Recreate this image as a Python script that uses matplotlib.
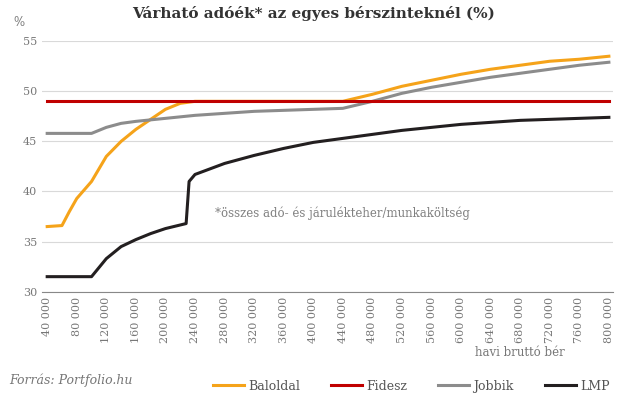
import matplotlib.pyplot as plt

plt.rcParams['font.family'] = 'DejaVu Serif'

x_bal = [40000, 60000, 70000, 80000, 100000, 120000, 140000, 160000, 180000, 200000, 220000, 240000,
         440000, 480000, 520000, 560000, 600000, 640000, 680000, 720000, 760000, 800000]
y_bal = [36.5, 36.6, 38.0, 39.3, 41.0, 43.5, 45.0, 46.2, 47.2, 48.2, 48.8, 49.0,
         49.0, 49.7, 50.5, 51.1, 51.7, 52.2, 52.6, 53.0, 53.2, 53.5]

x_fid = [40000, 800000]
y_fid = [49, 49]

x_job = [40000, 100000, 120000, 140000, 160000, 200000, 240000, 280000, 320000, 360000, 400000, 440000,
         480000, 520000, 560000, 600000, 640000, 680000, 720000, 760000, 800000]
y_job = [45.8, 45.8, 46.4, 46.8, 47.0, 47.3, 47.6, 47.8, 48.0, 48.1, 48.2, 48.3,
         49.0, 49.8, 50.4, 50.9, 51.4, 51.8, 52.2, 52.6, 52.9]

x_lmp = [40000, 100000, 120000, 140000, 160000, 180000, 200000, 228000, 232000, 240000, 280000, 320000,
         360000, 400000, 440000, 480000, 520000, 560000, 600000, 640000, 680000, 720000, 760000, 800000]
y_lmp = [31.5, 31.5, 33.3, 34.5, 35.2, 35.8, 36.3, 36.8, 41.0, 41.7, 42.8, 43.6,
         44.3, 44.9, 45.3, 45.7, 46.1, 46.4, 46.7, 46.9, 47.1, 47.2, 47.3, 47.4]

xticks = list(range(40000, 800001, 40000))
xtick_labels = [f"{v:,}".replace(",", " ") for v in xticks]

fig = plt.figure(figsize=(6.27, 4.04), dpi=100)
ax = fig.add_axes([0.067, 0.278, 0.91, 0.62])

ax.plot(x_bal, y_bal, color='#f5a31a', lw=2.2, label='Baloldal', zorder=2)
ax.plot(x_fid, y_fid, color='#c00000', lw=2.2, label='Fidesz', zorder=3)
ax.plot(x_job, y_job, color='#8c8c8c', lw=2.2, label='Jobbik', zorder=2)
ax.plot(x_lmp, y_lmp, color='#231f20', lw=2.2, label='LMP', zorder=2)

ax.set_xlim(33000, 805000)
ax.set_ylim(30, 55)
ax.set_yticks([30, 35, 40, 45, 50, 55])
ax.set_xticks(xticks)
ax.set_xticklabels(xtick_labels, rotation=90)
ax.tick_params(colors='#777777', labelsize=8, length=0)
ax.grid(axis='y', color='#d9d9d9', lw=0.8)
for s in ['top', 'right', 'left']:
    ax.spines[s].set_visible(False)
ax.spines['bottom'].set_color('#888888')
ax.set_axisbelow(True)

fig.text(0.5, 0.955, 'Várható adóék* az egyes bérszinteknél (%)', ha='center', fontsize=11,
         fontweight='bold', color='#333333')
fig.text(0.022, 0.935, '%', fontsize=8.5, color='#777777')
ax.text(440000, 37.5, '*összes adó- és járulékteher/munkaköltség', fontsize=8.5, color='#808080', ha='center')
fig.text(0.9, 0.12, 'havi bruttó bér', ha='right', fontsize=8.5, color='#777777')
fig.text(0.015, 0.05, 'Forrás: Portfolio.hu', fontsize=9, style='italic', color='#777777')

fig.legend(loc='lower right', bbox_to_anchor=(0.99, 0.0), ncol=4, frameon=False, fontsize=9,
           handlelength=2.5, handletextpad=0.3, columnspacing=2.5, labelcolor='#555555')

fig.savefig('out.png', dpi=100)
